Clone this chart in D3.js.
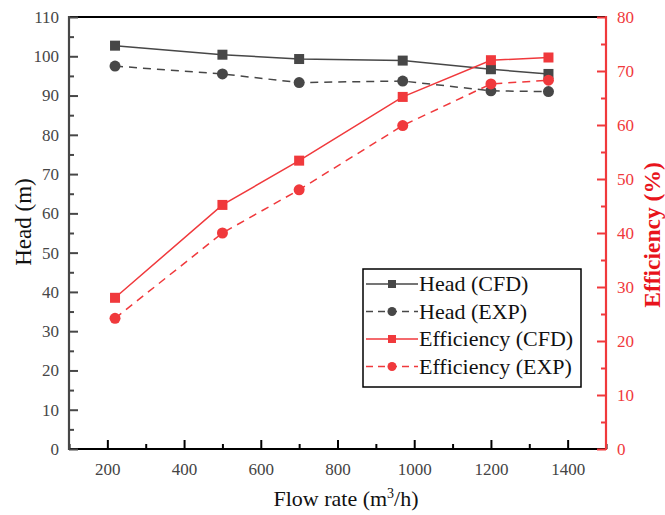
<!DOCTYPE html>
<html><head><meta charset="utf-8">
<script src="https://cdn.jsdelivr.net/npm/d3@7"></script>
<style>body{margin:0;background:#fff} svg text{font-family:"Liberation Serif","DejaVu Serif",serif;}</style>
</head><body>
<script>
const flowRates = [220, 500, 700, 970, 1200, 1350];
const headCFD = [102.7, 100.4, 99.3, 98.9, 96.7, 95.5];
const headEXP = [97.5, 95.5, 93.3, 93.7, 91.2, 91.0];
const effCFD = [28.0, 45.2, 53.4, 65.2, 72.0, 72.5];
const effEXP = [24.2, 40.0, 48.0, 59.9, 67.6, 68.3];
const xTicks = [200, 400, 600, 800, 1000, 1200, 1400];
const headTicks = [0,10,20,30,40,50,60,70,80,90,100,110];
const effTicks = [0,10,20,30,40,50,60,70,80];

const W = 665, H = 515;
const L = 69, R = 606, T = 17, B = 449;
const gray = "#474747", red = "#f0393c";

const svg = d3.select("body").append("svg").attr("width", W).attr("height", H);

const x = d3.scaleLinear().domain([100, 1500]).range([L, R]);
const yH = d3.scaleLinear().domain([0, 110]).range([B, T]);
const yE = d3.scaleLinear().domain([0, 80]).range([B, T]);

svg.append("line").attr("x1", L).attr("x2", R).attr("y1", T).attr("y2", T)
  .attr("stroke", "#000").attr("stroke-width", 2);

function styleAxis(g, color) {
  g.attr("font-family", null).attr("font-size", null);
  g.select(".domain").remove();
  g.selectAll("line").attr("stroke", color).attr("stroke-width", 2);
  g.selectAll("text").attr("fill", color).style("font-size", "17px");
}

const xMinor = d3.range(100, 1501, 100).filter(v => v % 200 !== 0);
svg.append("g").attr("transform", `translate(0,${B})`)
  .call(d3.axisTop(x).tickValues(xMinor).tickSize(5).tickFormat(""))
  .call(g => styleAxis(g, "#000"));
svg.append("g").attr("transform", `translate(0,${B})`)
  .call(d3.axisBottom(x).tickValues(xTicks).tickSize(-9).tickPadding(14).tickFormat(d3.format("d")))
  .call(g => { styleAxis(g, "#000"); g.selectAll("text").attr("fill", "#444"); });
svg.append("line").attr("x1", L).attr("x2", R).attr("y1", B).attr("y2", B)
  .attr("stroke", "#000").attr("stroke-width", 2.2);

svg.append("g").attr("transform", `translate(${L},0)`)
  .call(d3.axisRight(yH).tickValues(d3.range(5, 110, 10)).tickSize(5).tickFormat(""))
  .call(g => styleAxis(g, gray));
svg.append("g").attr("transform", `translate(${L},0)`)
  .call(d3.axisLeft(yH).tickValues(headTicks).tickSize(-9).tickPadding(10))
  .call(g => styleAxis(g, gray));
svg.append("line").attr("x1", L).attr("x2", L).attr("y1", T - 1).attr("y2", B + 1)
  .attr("stroke", gray).attr("stroke-width", 2.2);

svg.append("g").attr("transform", `translate(${R},0)`)
  .call(d3.axisLeft(yE).tickValues(d3.range(5, 80, 10)).tickSize(5).tickFormat(""))
  .call(g => styleAxis(g, red));
svg.append("g").attr("transform", `translate(${R},0)`)
  .call(d3.axisRight(yE).tickValues(effTicks).tickSize(-9).tickPadding(11))
  .call(g => styleAxis(g, red));
svg.append("line").attr("x1", R).attr("x2", R).attr("y1", T - 1).attr("y2", B + 1)
  .attr("stroke", red).attr("stroke-width", 2.2);

const series = [
  {name: "Head (CFD)", vals: headCFD, y: yH, color: gray, dash: null, shape: "square"},
  {name: "Head (EXP)", vals: headEXP, y: yH, color: gray, dash: "8,6", shape: "circle"},
  {name: "Efficiency (CFD)", vals: effCFD, y: yE, color: red, dash: null, shape: "square"},
  {name: "Efficiency (EXP)", vals: effEXP, y: yE, color: red, dash: "8,6", shape: "circle"}
];

function marker(g, shape, cx, cy, color) {
  if (shape === "square") {
    g.append("rect").attr("x", cx - 5).attr("y", cy - 5).attr("width", 10).attr("height", 10).attr("fill", color);
  } else {
    g.append("circle").attr("cx", cx).attr("cy", cy).attr("r", 5.5).attr("fill", color);
  }
}

series.forEach(s => {
  const pts = flowRates.map((f, i) => [x(f), s.y(s.vals[i])]);
  svg.append("path").attr("d", d3.line()(pts)).attr("fill", "none")
    .attr("stroke", s.color).attr("stroke-width", 1.5)
    .attr("stroke-dasharray", s.dash);
  const g = svg.append("g");
  pts.forEach(p => marker(g, s.shape, p[0], p[1], s.color));
});

const lg = svg.append("g");
lg.append("rect").attr("x", 363).attr("y", 269).attr("width", 218).attr("height", 118)
  .attr("fill", "#fff").attr("stroke", "#000").attr("stroke-width", 1.5);
series.forEach((s, i) => {
  const cy = 284 + i * 27.5;
  lg.append("line").attr("x1", 366).attr("x2", 418).attr("y1", cy).attr("y2", cy)
    .attr("stroke", s.color).attr("stroke-width", 1.5).attr("stroke-dasharray", s.dash ? "7,5" : null);
  if (s.shape === "square") {
    lg.append("rect").attr("x", 392 - 4).attr("y", cy - 4).attr("width", 8).attr("height", 8).attr("fill", s.color);
  } else {
    lg.append("circle").attr("cx", 392).attr("cy", cy).attr("r", 4.5).attr("fill", s.color);
  }
  lg.append("text").attr("x", 419).attr("y", cy + 7).text(s.name)
    .style("font-size", "22px").attr("fill", "#111");
});

svg.append("text").attr("transform", `translate(31,222) rotate(-90)`)
  .attr("text-anchor", "middle").style("font-size", "23px").attr("fill", "#111").text("Head (m)");
const xt = svg.append("text").attr("x", 346).attr("y", 506).attr("text-anchor", "middle")
  .style("font-size", "22px").attr("fill", "#111");
xt.append("tspan").text("Flow rate (m");
xt.append("tspan").attr("dy", -8).style("font-size", "14px").text("3");
xt.append("tspan").attr("dy", 8).text("/h)");
svg.append("text").attr("transform", `translate(660,235) rotate(-90)`)
  .attr("text-anchor", "middle").style("font-size", "23.5px").style("font-weight", "bold")
  .attr("fill", "#e8141c").text("Efficiency (%)");
</script>
</body></html>
